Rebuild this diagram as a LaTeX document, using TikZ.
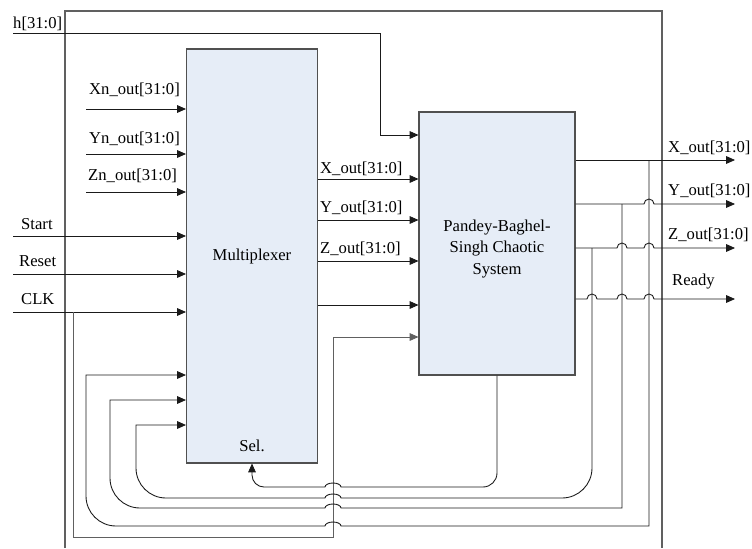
\documentclass[tikz,border=0pt]{standalone}
\usepackage{fontspec}
\setmainfont{Liberation Serif}
\usetikzlibrary{arrows.meta,positioning}
\definecolor{BoxFill}{HTML}{E6EDF7}
\definecolor{BoxLine}{HTML}{505050}
\definecolor{WireInk}{HTML}{1A1A1A}
\definecolor{FrameInk}{HTML}{606060}
\tikzset{
  blk/.style={draw=BoxLine, line width=0.9pt, fill=BoxFill, inner sep=0pt},
  sig/.style={draw=WireInk, line width=0.75pt},
  sigarr/.style={sig, -{Triangle[length=7.5pt,width=6.5pt]}},
  frame/.style={draw=FrameInk, line width=0.9pt},
  lbl/.style={inner sep=0pt, font=\rmfamily\fontsize{14.2pt}{18.5pt}\selectfont},
}
\begin{document}
\begin{tikzpicture}[x=0.03cm, y=-0.03cm]
\useasboundingbox (0,0) rectangle (752,548);
\draw[frame] (65,548) -- (65,11) -- (662,11) -- (662,548);
\node[blk, lbl, minimum width=3.93cm, minimum height=12.42cm] (mux) at (252,256) {Multiplexer};
\node[blk, minimum width=4.68cm, minimum height=7.89cm] (pbs) at (497,243.5) {};
\node[lbl, align=center] (pbstxt) at (497,249) {Pandey-Baghel-\\Singh Chaotic\\System};
\node[lbl, anchor=base] (sel) at (252,451) {Sel.};
\coordinate (hin) at (13,33);
\coordinate (xn) at (86,109);
\coordinate (yn) at (86,154);
\coordinate (zn) at (86,192);
\coordinate (start) at (13,236);
\coordinate (reset) at (13,274);
\coordinate (clk) at (13,312);
\coordinate (xo) at (735,160);
\coordinate (yo) at (735,204);
\coordinate (zo) at (735,248);
\coordinate (rdy) at (735,299);
\coordinate (xtap) at (649,160);
\coordinate (ytap) at (622,204);
\coordinate (ztap) at (592,248);
\node[lbl, anchor=base west] (hlbl) at (13,28) {h[31:0]};
\node[lbl, anchor=base west] (xnlbl) at (89,94) {Xn\_out[31:0]};
\node[lbl, anchor=base west] (ynlbl) at (89,143) {Yn\_out[31:0]};
\node[lbl, anchor=base west] (znlbl) at (88,180) {Zn\_out[31:0]};
\node[lbl, anchor=base west] (startlbl) at (21,229) {Start};
\node[lbl, anchor=base west] (resetlbl) at (19,266) {Reset};
\node[lbl, anchor=base west] (clklbl) at (21,304) {CLK};
\node[lbl, anchor=base west] (xmlbl) at (320,173) {X\_out[31:0]};
\node[lbl, anchor=base west] (ymlbl) at (320,212) {Y\_out[31:0]};
\node[lbl, anchor=base west] (zmlbl) at (320,253) {Z\_out[31:0]};
\node[lbl, anchor=base west] (xolbl) at (668,152) {X\_out[31:0]};
\node[lbl, anchor=base west] (yolbl) at (668,195) {Y\_out[31:0]};
\node[lbl, anchor=base west] (zolbl) at (668,239) {Z\_out[31:0]};
\node[lbl, anchor=base west] (rdylbl) at (672,285) {Ready};
\foreach \c in {xn,yn,zn,start,reset,clk}
  \draw[sigarr] (\c) -- (\c -| mux.west);
\draw[sigarr] (hin) -- (380,33) |- (pbs.west |- 0,135);
\foreach \y in {179,220,261,305}
  \draw[sigarr] (mux.east |- 0,\y) -- (pbs.west |- 0,\y);
\draw[sigarr, draw=FrameInk] (73,312) |- (333,537) |- (pbs.west |- 0,337);
\draw[sigarr] (pbs.east |- xo) -- (xo);
\draw[sigarr] (pbs.east |- yo) -- (644,204) arc[start angle=180, end angle=360, radius=5] -- (yo);
\draw[sigarr] (pbs.east |- zo) -- (617,248) arc[start angle=180, end angle=360, radius=5]
  -- (644,248) arc[start angle=180, end angle=360, radius=5] -- (zo);
\draw[sigarr] (pbs.east |- rdy) -- (587,299) arc[start angle=180, end angle=360, radius=5]
  -- (617,299) arc[start angle=180, end angle=360, radius=5]
  -- (644,299) arc[start angle=180, end angle=360, radius=5] -- (rdy);
\draw[sigarr] (xtap) -- (649,526) -- (341,526) arc[start angle=0, end angle=-180, x radius=8, y radius=4]
  -- (116,526) arc[start angle=90, end angle=180, radius=30] -- (86,375) -- (mux.west |- 0,375);
\draw[sigarr] (ytap) -- (622,508) -- (341,508) arc[start angle=0, end angle=-180, x radius=8, y radius=4]
  -- (140,508) arc[start angle=90, end angle=180, radius=30] -- (110,400) -- (mux.west |- 0,400);
\draw[sigarr] (ztap) -- (592,468) arc[start angle=0, end angle=90, radius=30]
  -- (341,498) arc[start angle=0, end angle=-180, x radius=8, y radius=4]
  -- (166,498) arc[start angle=90, end angle=180, radius=30] -- (136,425) -- (mux.west |- 0,425);
\draw[sigarr] (pbs.south) -- (497,473) arc[start angle=0, end angle=90, radius=14]
  -- (341,487) arc[start angle=0, end angle=-180, x radius=8, y radius=4]
  -- (264,487) arc[start angle=90, end angle=180, radius=12] -- (mux.south);
\end{tikzpicture}
\end{document}
